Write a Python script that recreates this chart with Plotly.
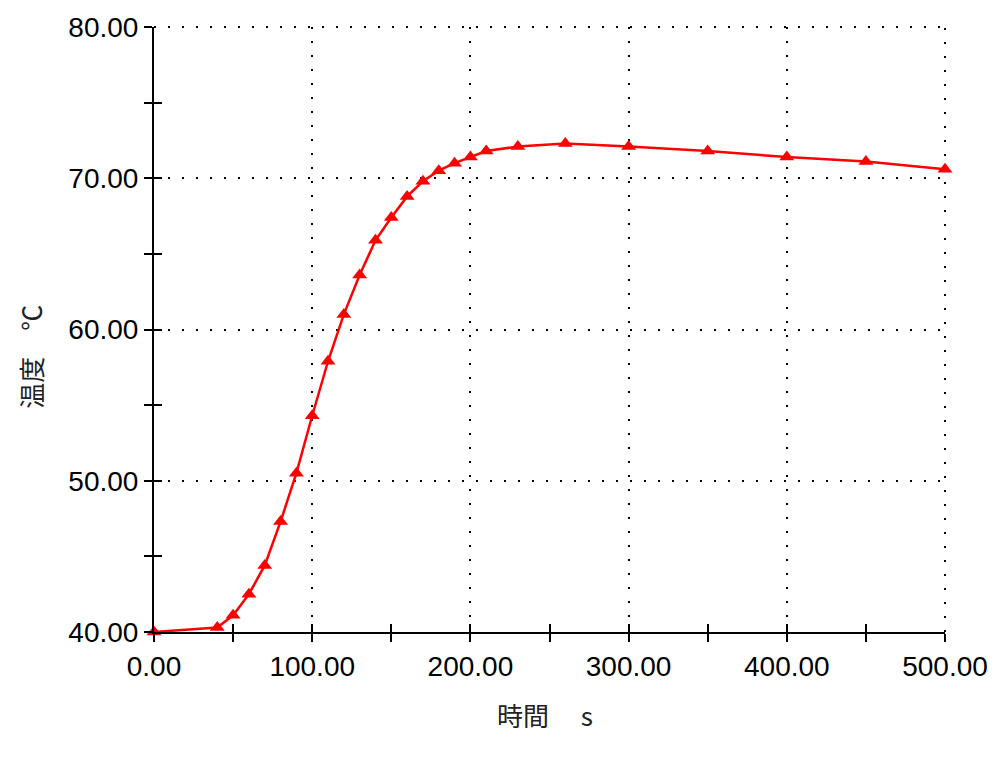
import plotly.graph_objects as go

time_s = [0, 40, 50, 60, 70, 80, 90, 100, 110, 120, 130, 140, 150, 160, 170,
          180, 190, 200, 210, 230, 260, 300, 350, 400, 450, 500]
temp_c = [40.0, 40.3, 41.1, 42.5, 44.4, 47.3, 50.5, 54.3, 57.9, 61.0, 63.6,
          65.9, 67.4, 68.8, 69.8, 70.5, 71.0, 71.4, 71.8, 72.1, 72.3, 72.1,
          71.8, 71.4, 71.1, 70.6]

x_title = "時間　 s"
y_title = "温度　℃"

tick_font = dict(family="Liberation Sans, Arial, sans-serif", size=28, color="#000000")
title_font = dict(family="Noto Sans CJK JP, sans-serif", size=26, color="#222222")

fig = go.Figure()
fig.add_trace(go.Scatter(
    x=time_s, y=temp_c, mode="lines+markers",
    line=dict(color="#ff0000", width=2.5),
    marker=dict(symbol="triangle-up", size=13, color="#ff0000"),
    cliponaxis=False, showlegend=False,
))
# empty trace to activate overlay axes (inside half of crossing ticks)
fig.add_trace(go.Scatter(x=[], y=[], xaxis="x2", yaxis="y2", showlegend=False))

dots = "2px,12px"
grid = dict(showgrid=True, gridcolor="#000000", gridwidth=2, griddash=dots)

fig.update_layout(
    width=1000, height=757,
    margin=dict(l=146, r=63, t=19, b=133, autoexpand=False),
    paper_bgcolor="white", plot_bgcolor="white",
    xaxis=dict(range=[0, 500], dtick=100, tickformat=".2f", automargin=False,
               ticks="outside", ticklen=8, tickwidth=2, tickcolor="#000",
               minor=dict(dtick=50, ticks="outside", ticklen=8, tickwidth=2, tickcolor="#000"),
               showline=True, linecolor="#000", linewidth=2, zeroline=False,
               tickfont=tick_font, **grid),
    yaxis=dict(range=[40, 80], dtick=10, tickformat=".2f", automargin=False,
               ticks="outside", ticklen=8, tickwidth=2, tickcolor="#000",
               minor=dict(dtick=5, ticks="outside", ticklen=8, tickwidth=2, tickcolor="#000"),
               showline=True, linecolor="#000", linewidth=2, zeroline=False,
               tickfont=tick_font, **grid),
    xaxis2=dict(range=[0, 500], overlaying="x", anchor="y2", side="bottom", automargin=False,
                dtick=100, ticks="inside", ticklen=8, tickwidth=2, tickcolor="#000",
                minor=dict(dtick=50, ticks="inside", ticklen=8, tickwidth=2, tickcolor="#000"),
                showticklabels=False, showgrid=False, zeroline=False, showline=False),
    yaxis2=dict(range=[40, 80], overlaying="y", anchor="x2", side="left", automargin=False,
                dtick=10, ticks="inside", ticklen=8, tickwidth=2, tickcolor="#000",
                minor=dict(dtick=5, ticks="inside", ticklen=8, tickwidth=2, tickcolor="#000"),
                showticklabels=False, showgrid=False, zeroline=False, showline=False),
    shapes=[
        dict(type="line", xref="paper", yref="paper", x0=0, x1=1, y0=1, y1=1,
             line=dict(color="#000", width=2, dash=dots), layer="below"),
        dict(type="line", xref="paper", yref="paper", x0=1, x1=1, y0=0, y1=1,
             line=dict(color="#000", width=2, dash=dots), layer="below"),
    ],
    annotations=[
        dict(text=x_title, xref="paper", yref="paper", x=0.494, y=-0.137,
             xanchor="center", yanchor="middle", showarrow=False, font=title_font),
        dict(text=y_title, xref="paper", yref="paper", x=-0.157, y=0.4545,
             xanchor="center", yanchor="middle", textangle=-90, showarrow=False,
             font=title_font),
    ],
)

fig.write_html("out.html")
